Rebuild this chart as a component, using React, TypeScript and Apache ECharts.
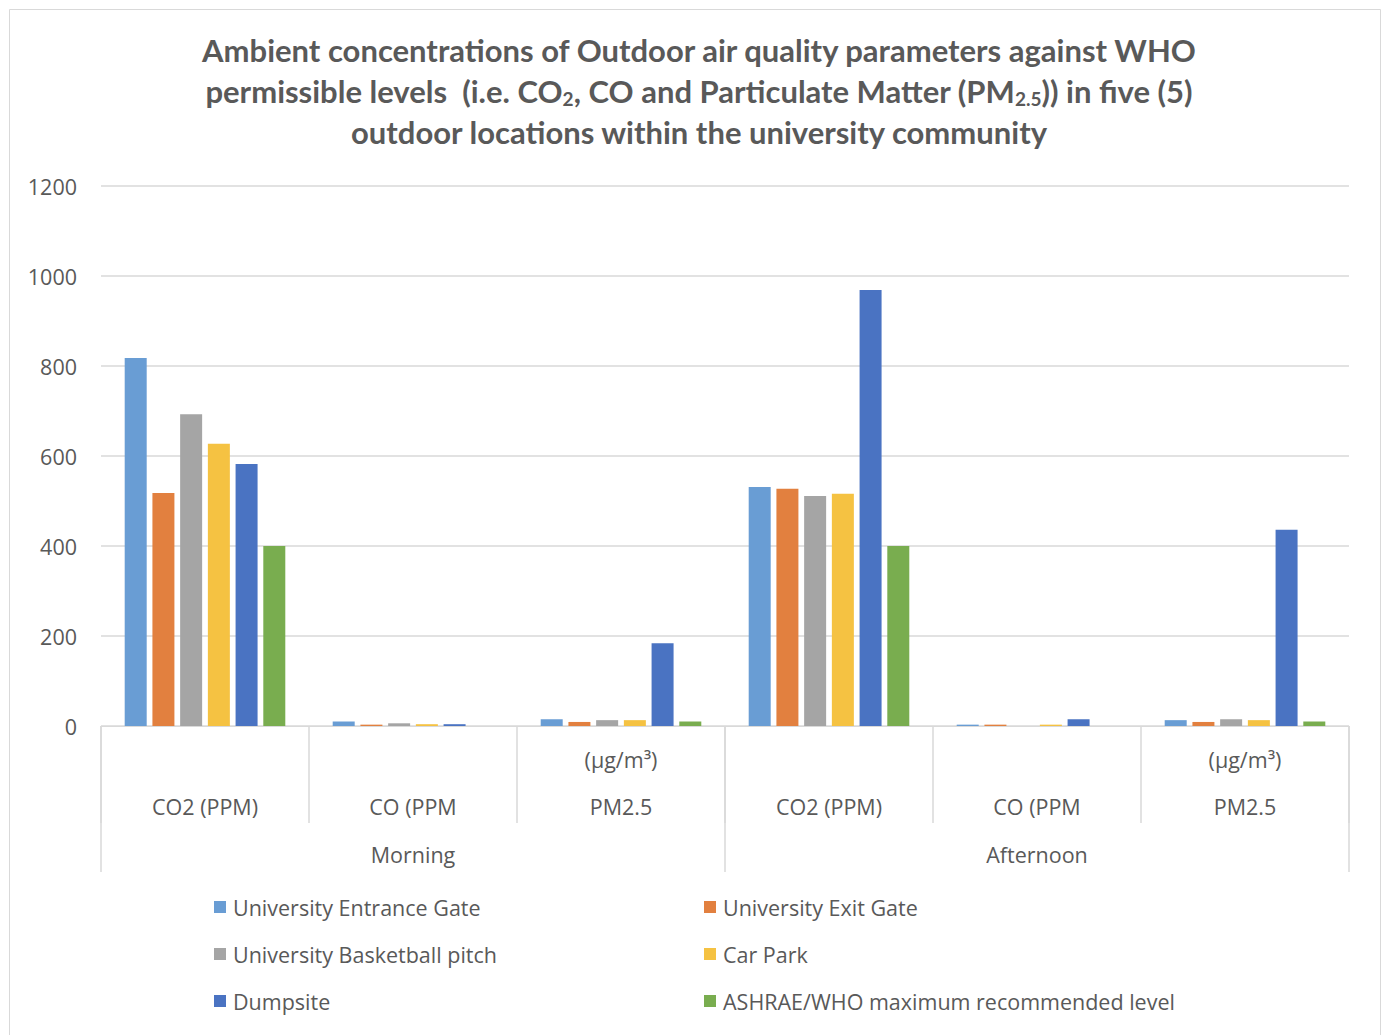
import React, { useEffect, useRef } from "react";
import * as echarts from "echarts";

const categories = ["\nCO2 (PPM)", "\nCO (PPM", "(µg/m³)\nPM2.5", "\nCO2 (PPM)", "\nCO (PPM", "(µg/m³)\nPM2.5"];
const periods = ["Morning", "Afternoon"];
const yTicks = { min: 0, max: 1200, interval: 200 };

const entranceGate = [818, 10, 15, 531, 3, 13];
const exitGate = [518, 3, 9, 527, 3, 9];
const basketballPitch = [693, 6, 13, 511, 0, 15];
const carPark = [627, 4, 13, 516, 3, 13];
const dumpsite = [582, 4, 184, 969, 15, 436];
const ashraeWho = [400, 0, 10, 400, 0, 10];

const seriesNames = [
  "University Entrance Gate",
  "University Exit Gate",
  "University Basketball pitch",
  "Car Park",
  "Dumpsite",
  "ASHRAE/WHO maximum recommended level",
];
const seriesData = [entranceGate, exitGate, basketballPitch, carPark, dumpsite, ashraeWho];
const colors = ["#699DD4", "#E2803F", "#A5A5A5", "#F5C242", "#4A73C2", "#79AD4F"];

const FONT = "'Open Sans', 'Noto Sans', sans-serif";
const TFONT = "Lato, 'Open Sans', sans-serif";
const GREY = "#595959";
const LINE = "#D9D9D9";

export default function App() {
  const ref = useRef<HTMLDivElement>(null);
  useEffect(() => {
    if (!ref.current) return;
    const chart = echarts.init(ref.current, null, { renderer: "svg" });
    const legendStyle = {
      orient: "vertical" as const,
      top: 891,
      itemWidth: 12,
      itemHeight: 12,
      itemGap: 25,
      icon: "rect",
      textStyle: { fontFamily: FONT, fontSize: 21.5, color: GREY, padding: [0, 0, 0, 2] },
    };
    chart.setOption({
      animation: false,
      backgroundColor: "#fff",
      color: colors,
      textStyle: { fontFamily: FONT },
      title: {
        left: 694,
        top: 24,
        textAlign: "center",
        text:
          "{m|Ambient concentrations of Outdoor air quality parameters against WHO}\n" +
          "{m|permissible levels  (i.e. CO}{s|2}{m|, CO and Particulate Matter (PM}{s|2.5}{m|)) in five (5)}\n" +
          "{m|outdoor locations within the university community}",
        textStyle: {
          rich: {
            m: { fontFamily: TFONT, fontWeight: "bold", fontSize: 31, color: GREY, lineHeight: 41 },
            s: { fontFamily: TFONT, fontWeight: "bold", fontSize: 19, color: GREY, lineHeight: 41, padding: [16, 0, 0, 0] },
          },
        },
      },
      graphic: [
        {
          type: "rect",
          shape: { x: 9.5, y: 9.5, width: 1371, height: 1100 },
          style: { fill: "none", stroke: LINE, lineWidth: 1 },
          silent: true,
        },
      ],
      legend: [
        { ...legendStyle, left: 209, data: [seriesNames[0], seriesNames[2], seriesNames[4]] },
        { ...legendStyle, left: 699, data: [seriesNames[1], seriesNames[3], seriesNames[5]] },
      ],
      grid: { left: 101, right: 37, top: 186, bottom: 309, containLabel: false },
      xAxis: [
        {
          type: "category",
          data: categories,
          position: "bottom",
          axisLine: { show: true, lineStyle: { color: LINE, width: 1 } },
          axisTick: { show: true, length: 97, interval: 0, lineStyle: { color: LINE, width: 1.5 } },
          axisLabel: {
            interval: 0,
            margin: 10,
            fontFamily: FONT,
            fontSize: 21.5,
            color: GREY,
            lineHeight: 47,
          },
        },
        {
          type: "category",
          data: periods,
          position: "bottom",
          axisLine: { show: false },
          axisTick: { show: true, length: 146, interval: 0, lineStyle: { color: LINE, width: 1.5 } },
          axisLabel: { interval: 0, margin: 117, fontFamily: FONT, fontSize: 21.5, color: GREY },
        },
      ],
      yAxis: {
        type: "value",
        min: yTicks.min,
        max: yTicks.max,
        interval: yTicks.interval,
        axisLine: { show: false },
        axisTick: { show: false },
        splitLine: { lineStyle: { color: LINE, width: 1.5 } },
        axisLabel: { margin: 24, fontFamily: FONT, fontSize: 21.5, color: GREY, formatter: (v: number) => String(v) },
      },
      series: seriesNames.map((name, i) => ({
        name,
        type: "bar",
        xAxisIndex: 0,
        data: seriesData[i],
        barWidth: 22,
        barGap: "26%",
        itemStyle: { color: colors[i] },
      })),
    });
    return () => chart.dispose();
  }, []);
  return <div ref={ref} style={{ position: "fixed", left: 0, top: 0, width: 1386, height: 1035 }} />;
}
